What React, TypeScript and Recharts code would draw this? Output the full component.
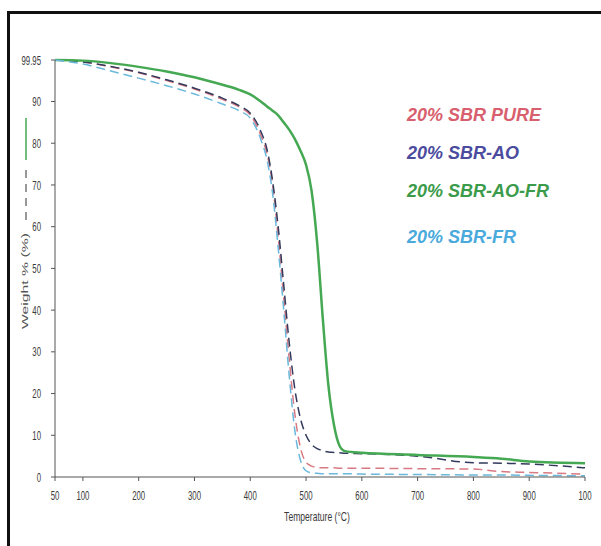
import { LineChart, Line, XAxis, YAxis, Legend } from 'recharts';

const temps = [50, 100, 150, 200, 250, 300, 350, 380, 400, 420, 430, 440, 450, 460, 470, 480, 490, 500, 510, 520, 530, 540, 550, 560, 570, 600, 700, 800, 850, 900, 1000];
const pure = [99.95, 99.5, 98.3, 96.9, 95.0, 93.0, 90.5, 88.7, 86.8, 81.5, 77.5, 70, 57.5, 43, 28, 15, 7, 3.5, 2.6, 2.3, 2.2, 2.2, 2.2, 2.1, 2.1, 2.1, 2.0, 1.9, 1.3, 1.1, 0.7];
const ao = [99.95, 99.5, 98.4, 97.0, 95.2, 93.2, 90.8, 89.0, 87.2, 82.5, 78.5, 71, 60, 46, 32, 21, 14, 10, 7.8, 6.8, 6.3, 6.0, 5.9, 5.8, 5.7, 5.6, 5.0, 3.4, 3.3, 3.1, 2.2];
const aoFr = [99.95, 99.8, 99.2, 98.3, 97.2, 95.8, 94.0, 92.8, 91.7, 89.9, 88.8, 87.8, 86.7, 85.0, 83.2, 81.0, 78.2, 74.8, 68.5, 56, 38, 22, 12.5, 7.5, 6.2, 5.8, 5.3, 4.8, 4.4, 3.7, 3.3];
const fr = [99.95, 99.0, 97.3, 95.6, 93.8, 91.8, 89.4, 87.8, 86.0, 80.5, 76, 68, 55, 40, 24, 11, 4, 1.5, 1.0, 0.9, 0.8, 0.8, 0.8, 0.8, 0.8, 0.7, 0.6, 0.5, 0.5, 0.4, 0.3];

const xTicks = [50, 100, 200, 300, 400, 500, 600, 700, 800, 900, 1000];
const yTicks = [0, 10, 20, 30, 40, 50, 60, 70, 80, 90, 99.95];

const series = [
  { key: 'pure', name: '20% SBR PURE', text: '#d8606e', stroke: '#d87a84', dash: '9 5', width: 1.5, gap: 38 },
  { key: 'ao', name: '20% SBR-AO', text: '#4b4c9e', stroke: '#333a5c', dash: '9 5', width: 1.5, gap: 38 },
  { key: 'aoFr', name: '20% SBR-AO-FR', text: '#3b9b4b', stroke: '#45a852', dash: undefined, width: 2.5, gap: 46 },
  { key: 'fr', name: '20% SBR-FR', text: '#4aaadc', stroke: '#6ab8dc', dash: '9 5', width: 1.5, gap: 30 },
];

const data = temps.map((t, i) => ({ t, pure: pure[i], ao: ao[i], aoFr: aoFr[i], fr: fr[i] }));

const font = { fontFamily: '"Liberation Sans", Arial', fontSize: 13, fill: '#3a3a3a' };

function XTick({ x, y, payload }: any) {
  const label = payload.value === 1000 ? '100' : String(payload.value);
  return (
    <g transform={`translate(${x},${y})`}>
      <text transform="scale(0.6,1)" textAnchor="middle" dy="0.71em" {...font}>{label}</text>
    </g>
  );
}

function YTick({ x, y, payload }: any) {
  return (
    <g transform={`translate(${x},${y})`}>
      <text transform="scale(0.6,1)" textAnchor="end" dy="0.355em" {...font}>{payload.value}</text>
    </g>
  );
}

function XLabel({ viewBox }: any) {
  const cx = viewBox.x + viewBox.width / 2 - 3;
  return (
    <g transform={`translate(${cx},516)`}>
      <text transform="scale(0.66,1)" textAnchor="middle" dy="0.355em" {...font}>Temperature (°C)</text>
    </g>
  );
}

function YLabel() {
  return (
    <g>
      <line x1={26} x2={26} y1={118} y2={160} stroke="#45a852" strokeWidth={1.5} />
      <line x1={26} x2={26} y1={170} y2={225} stroke="#333" strokeWidth={1} strokeDasharray="8 6" />
      <g transform="translate(25,281) rotate(-90)">
        <text transform="scale(1.75,1)" textAnchor="middle" dy="0.355em" {...font} fontSize={9} fill="#555">Weight % (%)</text>
      </g>
    </g>
  );
}

function LegendBox() {
  return (
    <div style={{ fontFamily: '"Liberation Sans", Arial', fontWeight: 'bold', fontStyle: 'italic', fontSize: 18, textAlign: 'left' }}>
      {series.map((s) => (
        <div key={s.key} style={{ color: s.text, height: s.gap, lineHeight: '20px' }}>{s.name}</div>
      ))}
    </div>
  );
}

export default function App() {
  return (
    <div style={{ position: 'absolute', left: 0, top: 0, width: 601, height: 546, background: '#fff', overflow: 'hidden' }}>
      <div style={{ position: 'absolute', left: 7, top: 11, width: 640, height: 600, border: '3px solid #111' }} />
      <div style={{ position: 'absolute', left: 0, top: 0 }}>
        <LineChart width={601} height={546} data={data} margin={{ top: 60, right: 16, bottom: 19, left: 0 }}>
          <XAxis
            dataKey="t"
            type="number"
            domain={[50, 1000]}
            ticks={xTicks}
            tick={<XTick />}
            tickSize={4}
            tickMargin={10}
            height={50}
            stroke="#555"
            label={<XLabel />}
          />
          <YAxis
            type="number"
            domain={[0, 99.95]}
            ticks={yTicks}
            tick={<YTick />}
            tickSize={4}
            tickMargin={10}
            width={55}
            stroke="#555"
            label={<YLabel />}
          />
          <Legend
            layout="horizontal"
            verticalAlign="middle"
            align="center"
            wrapperStyle={{ left: 407, top: 105, width: 180 }}
            content={<LegendBox />}
          />
          {series.map((s) => (
            <Line
              key={s.key}
              dataKey={s.key}
              name={s.name}
              type="monotone"
              stroke={s.stroke}
              strokeWidth={s.width}
              strokeDasharray={s.dash}
              dot={false}
              isAnimationActive={false}
            />
          ))}
        </LineChart>
      </div>
    </div>
  );
}
